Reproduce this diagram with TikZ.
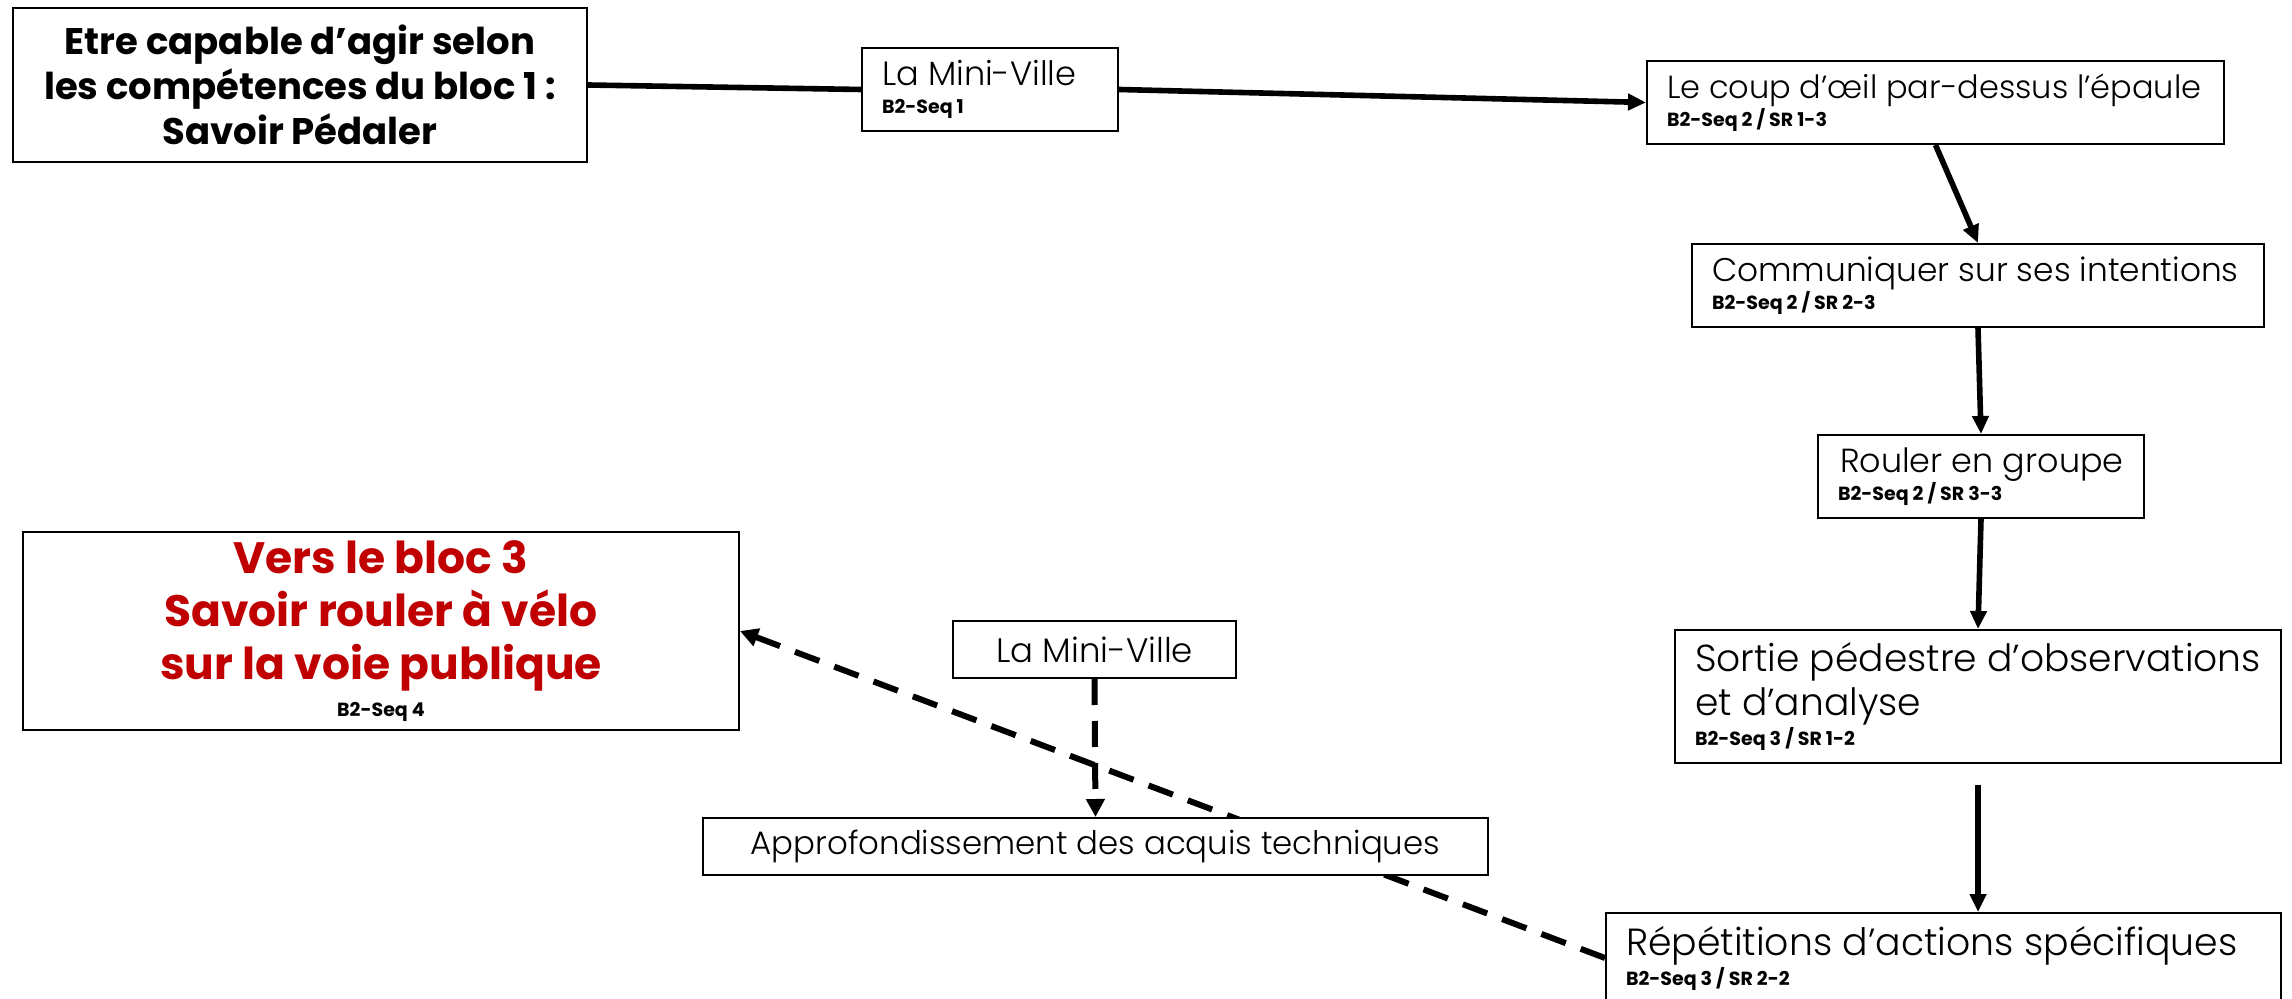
\documentclass[tikz,border=0pt]{standalone}
\usepackage{fontspec}
\setmainfont{Poppins Light}[BoldFont={Poppins Bold}]
\usetikzlibrary{arrows.meta,positioning,calc}
\definecolor{redtxt}{HTML}{C00000}
\pgfdeclarelayer{background}
\pgfsetlayers{background,main}
\tikzset{
  box/.style={draw=black, line width=1pt, fill=white, inner sep=0pt, anchor=north west},
  lbox/.style={box, inner xsep=10pt},
  cbox/.style={box, align=center},
  conn/.style={line width=2.8pt, -{Triangle[length=9pt,width=8pt]}},
  plain/.style={line width=2.8pt},
  dconn/.style={line width=3pt, dash pattern=on 13pt off 8pt, -{Triangle[length=9pt,width=9pt]}},
}
\newcommand{\sm}[1]{{\fontsize{9.5}{11}\selectfont\bfseries #1}}
% #1 width, #2 big size, #3 big text, #4 gap, #5 small text
\newcommand{\twoline}[5]{\makebox[#1][l]{\vbox{\lineskiplimit=-100pt\lineskip=0pt
  \hbox{\fontsize{#2}{#2}\selectfont #3}\baselineskip=#4\hbox{\sm{#5}}}}}
\begin{document}
\begin{tikzpicture}[x=0.5pt,y=-0.5pt]
\useasboundingbox (0,0) rectangle (2292,999);
% boxes
\node[cbox, minimum width=287pt, minimum height=77pt, font=\fontsize{18.5}{22.5}\selectfont\bfseries] (A) at (12,7)
  {Etre capable d’agir selon\\les compétences du bloc 1 :\\Savoir Pédaler};
\node[lbox, minimum width=128pt, minimum height=41.5pt] (B) at (861,47)
  {\twoline{108pt}{16.8pt}{La Mini-Ville}{14pt}{B2-Seq 1}};
\node[lbox, minimum width=288.5pt, minimum height=41.5pt] (C) at (1646,60)
  {\twoline{268.5pt}{16pt}{Le coup d’œil par-dessus l’épaule}{14pt}{B2-Seq 2 / SR 1-3}};
\node[lbox, minimum width=286pt, minimum height=41.5pt] (D) at (1691,243)
  {\twoline{266pt}{16.4pt}{Communiquer sur ses intentions}{14pt}{B2-Seq 2 / SR 2-3}};
\node[lbox, minimum width=163pt, minimum height=41.5pt] (E) at (1817,434)
  {\twoline{143pt}{16.7pt}{\hspace*{1pt}Rouler en groupe}{14pt}{B2-Seq 2 / SR 3-3}};
\node[lbox, minimum width=303pt, minimum height=66.5pt] (F) at (1674,629)
  {\makebox[283pt][l]{\vbox{\lineskiplimit=-100pt\lineskip=0pt\baselineskip=22pt
    \hbox{\fontsize{18.8}{18.8}\selectfont Sortie pédestre d’observations}
    \hbox{\fontsize{18.8}{18.8}\selectfont et d’analyse}\baselineskip=15pt
    \hbox{\sm{B2-Seq 3 / SR 1-2}}}}};
\node[lbox, minimum width=337.5pt, minimum height=45pt] (G) at (1605,912)
  {\twoline{317.5pt}{18.9pt}{Répétitions d’actions spécifiques}{15pt}{B2-Seq 3 / SR 2-2}};
\node[cbox, minimum width=358pt, minimum height=99pt, text=redtxt, font=\fontsize{22}{26.5}\selectfont\bfseries] (H) at (22,531)
  {Vers le bloc 3\\Savoir rouler à vélo\\sur la voie publique\\[-8pt]{\color{black}\sm{B2-Seq 4}}};
\node[cbox, minimum width=141.5pt, minimum height=28.5pt, font=\fontsize{17}{19}\selectfont] (I) at (952,620) {La Mini-Ville};
\node[cbox, minimum width=392.5pt, minimum height=28.5pt, font=\fontsize{16.2}{18}\selectfont] (J) at (702,817) {Approfondissement des acquis techniques};
% connectors
\coordinate (Fs) at ($(F.south)+(0,21)$);
\begin{pgfonlayer}{background}
\draw[plain] (A.east) -- (B.west);
\draw[conn] (B.east) -- (C.west);
\draw[conn] (C.south) -- (D.north);
\draw[conn] (D.south) -- (E.north);
\draw[conn] (E.south) -- (F.north);
\draw[conn] (Fs) -- (Fs |- G.north);
\draw[dconn] (G.west) -- (H.east);
\draw[dconn] (I.south) -- (J.north);
\end{pgfonlayer}
\end{tikzpicture}
\end{document}
